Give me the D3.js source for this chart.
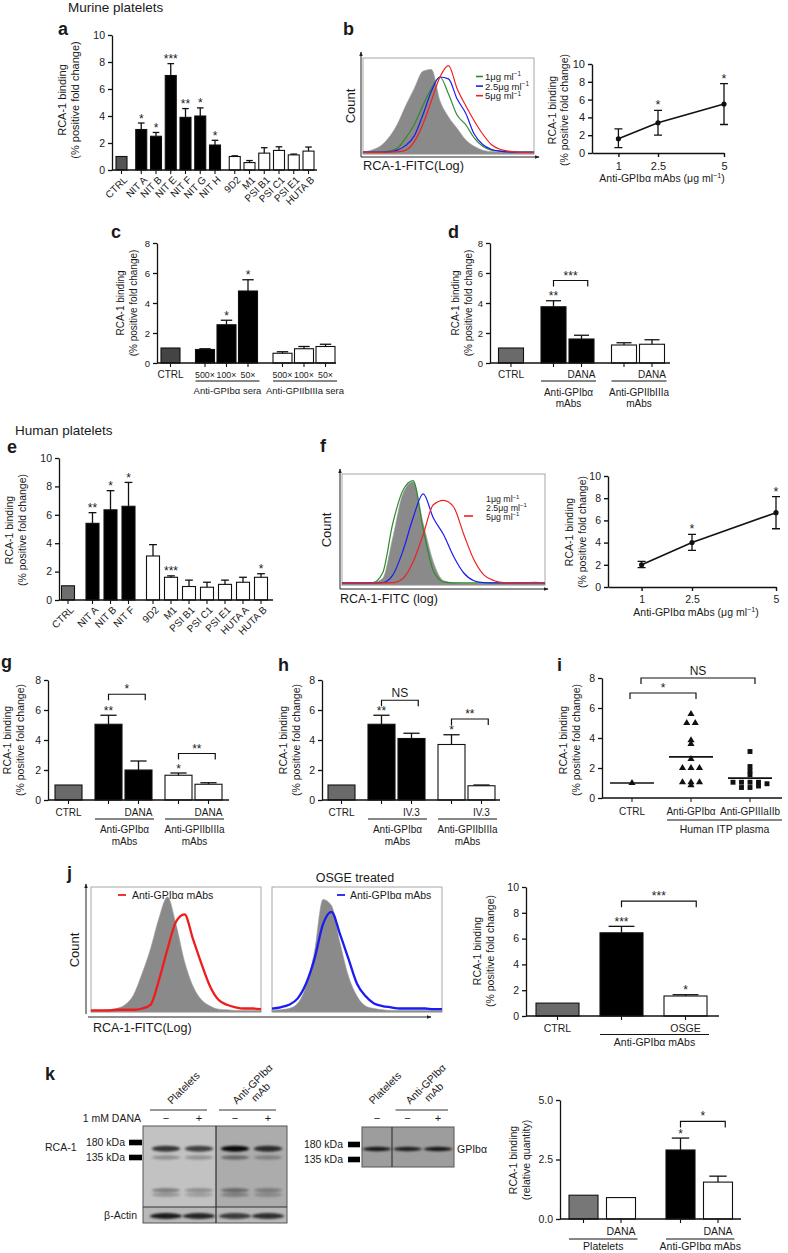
<!DOCTYPE html>
<html>
<head>
<meta charset="utf-8">
<script src="https://d3js.org/d3.v7.min.js"></script>
<style>
html,body{margin:0;padding:0;background:#fff;}
svg{display:block;}
text{font-family:"Liberation Sans",Arial,Helvetica,sans-serif;fill:#1a1a1a;}
</style>
</head>
<body>
<svg id="fig" width="788" height="1253" viewBox="0 0 788 1253"></svg>
<script>
// ================= DATA =================
// common
const yLabelText = ["RCA-1 binding", "(% positive fold change)"];
const kYLabelText = ["RCA-1 binding", "(relative quantity)"];
const ticks10 = [0, 2, 4, 6, 8, 10];
const ticks8 = [0, 2, 4, 6, 8];
const doseX = [1, 2.5, 5];
const doseTicks = [1, 2.5, 5];
const doseLegend = ["1μg ml^{−1}", "2.5μg ml^{−1}", "5μg ml^{−1}"];
const histChannels = [0,5,10,15,20,25,30,35,40,45,50,55,60,65,70,75,80,85,90,95,100];

// a
const aCats = ["CTRL","NIT A","NIT B","NIT E","NIT F","NIT G","NIT H","9D2","M1","PSI B1","PSI C1","PSI E1","HUTA B"];
const aType = ["control","GPIba","GPIba","GPIba","GPIba","GPIba","GPIba","GPIIbIIIa","GPIIbIIIa","GPIIbIIIa","GPIIbIIIa","GPIIbIIIa","GPIIbIIIa"];
const aVals = [1.0,3.0,2.5,7.0,3.9,4.0,1.85,1.0,0.55,1.25,1.45,1.12,1.4];
const aErrTop = [1.0,3.48,2.78,7.88,4.55,4.6,2.2,1.05,0.7,1.65,1.72,1.18,1.7];
const aStars = ["","*","*","***","**","*","*","","","","","",""];

// b
const bMean = [1.6, 3.4, 5.5];
const bLo = [0.6, 2.0, 3.2];
const bHi = [2.7, 4.8, 7.8];
const bStars = ["", "*", "*"];
const bHistGray  = [0.01,0.03,0.07,0.16,0.3,0.5,0.68,0.86,0.88,0.55,0.38,0.26,0.14,0.07,0.03,0.015,0.01,0.006,0.005,0.005,0.005];
const bHistGreen = [0.01,0.01,0.01,0.02,0.05,0.16,0.3,0.5,0.68,0.8,0.62,0.4,0.3,0.16,0.07,0.03,0.02,0.012,0.01,0.01,0.01];
const bHistBlue  = [0.01,0.01,0.01,0.012,0.03,0.08,0.18,0.4,0.65,0.8,0.78,0.57,0.42,0.2,0.09,0.04,0.02,0.012,0.01,0.01,0.01];
const bHistRed   = [0.006,0.006,0.006,0.01,0.012,0.03,0.12,0.3,0.55,0.8,0.92,0.68,0.5,0.34,0.2,0.09,0.04,0.02,0.01,0.006,0.006];

// c
const cLabels = ["CTRL","500×","100×","50×","500×","100×","50×"];
const cGroup = ["CTRL","Anti-GPIbα sera","Anti-GPIbα sera","Anti-GPIbα sera","Anti-GPIIbIIIa sera","Anti-GPIIbIIIa sera","Anti-GPIIbIIIa sera"];
const cType = ["control","GPIba","GPIba","GPIba","GPIIbIIIa","GPIIbIIIa","GPIIbIIIa"];
const cVals = [1.0,0.9,2.55,4.8,0.65,0.95,1.1];
const cErrTop = [1.0,0.95,2.85,5.55,0.75,1.1,1.25];
const cStars = ["","","*","*","","",""];

// d
const dLabels = ["CTRL","","DANA","","DANA"];
const dGroup = ["CTRL","Anti-GPIbα|mAbs","Anti-GPIbα|mAbs","Anti-GPIIbIIIa|mAbs","Anti-GPIIbIIIa|mAbs"];
const dType = ["control","GPIba","GPIba","GPIIbIIIa","GPIIbIIIa"];
const dVals = [1.0,3.75,1.6,1.2,1.25];
const dErrTop = [1.0,4.15,1.85,1.35,1.55];
const dStars = ["","**","","",""];
const dBrackets = [{from:1,to:2,at:5.5,label:"***"}];

// e
const eCats = ["CTRL","NIT A","NIT B","NIT F","9D2","M1","PSI B1","PSI C1","PSI E1","HUTA A","HUTA B"];
const eType = ["control","GPIba","GPIba","GPIba","GPIIbIIIa","GPIIbIIIa","GPIIbIIIa","GPIIbIIIa","GPIIbIIIa","GPIIbIIIa","GPIIbIIIa"];
const eVals = [1.0,5.4,6.35,6.6,3.1,1.6,0.95,0.9,1.1,1.25,1.6];
const eErrTop = [1.0,6.15,7.7,8.28,3.9,1.7,1.4,1.25,1.4,1.6,1.85];
const eStars = ["","**","*","*","","***","","","","","*"];

// f
const fMean = [2.0, 4.0, 6.7];
const fLo = [1.75, 3.3, 5.25];
const fHi = [2.3, 4.75, 8.15];
const fStars = ["", "*", "*"];
const fHistGray  = [0.01,0.01,0.01,0.012,0.05,0.42,0.82,0.93,0.55,0.2,0.03,0.012,0.006,0.005,0.005,0.005,0.005,0.005,0.005,0.005,0.005];
const fHistGreen = [0.01,0.01,0.01,0.012,0.1,0.55,0.85,0.94,0.5,0.12,0.02,0.01,0.01,0.01,0.01,0.01,0.01,0.01,0.01,0.01,0.01];
const fHistBlue  = [0.01,0.01,0.01,0.01,0.012,0.08,0.3,0.6,0.82,0.6,0.45,0.25,0.1,0.03,0.012,0.01,0.01,0.01,0.01,0.01,0.01];
const fHistRed   = [0.01,0.01,0.01,0.01,0.01,0.012,0.05,0.2,0.45,0.72,0.76,0.7,0.45,0.22,0.08,0.03,0.012,0.01,0.01,0.015,0.01];

// g
const gLabels = ["CTRL","","DANA","","DANA"];
const gGroup = ["CTRL","Anti-GPIbα|mAbs","Anti-GPIbα|mAbs","Anti-GPIIbIIIa|mAbs","Anti-GPIIbIIIa|mAbs"];
const gType = ["control","GPIba","GPIba","GPIIbIIIa","GPIIbIIIa"];
const gVals = [1.0,5.05,2.0,1.65,1.05];
const gErrTop = [1.0,5.65,2.6,1.8,1.15];
const gStars = ["","**","","*",""];
const gBrackets = [{from:1,to:2,at:7.05,label:"*"},{from:3,to:4,at:3.1,label:"**"}];

// h
const hLabels = ["CTRL","","IV.3","","IV.3"];
const hGroup = ["CTRL","Anti-GPIbα|mAbs","Anti-GPIbα|mAbs","Anti-GPIIbIIIa|mAbs","Anti-GPIIbIIIa|mAbs"];
const hType = ["control","GPIba","GPIba","GPIIbIIIa","GPIIbIIIa"];
const hVals = [1.0,5.05,4.1,3.7,0.95];
const hErrTop = [1.0,5.65,4.45,4.35,1.0];
const hStars = ["","**","","*",""];
const hBrackets = [{from:1,to:2,at:6.65,label:"NS"},{from:3,to:4,at:5.4,label:"**"}];

// i
const iCats = ["CTRL","Anti-GPIbα","Anti-GPIIIaIIb"];
const iGroup = ["","Human ITP plasma","Human ITP plasma"];
const iCtrl = [1.0];
const iGPIba = [5.6,5.0,5.0,3.85,3.6,2.6,2.0,2.0,2.0,1.05,1.05,1.05,0.85];
const iGPIIIa = [3.1,2.1,1.8,1.55,1.05,1.05,1.05,1.05,0.95,0.7,0.7,0.8];
const iBrackets = [{from:0,to:1,at:7.0,label:"*"},{from:0,to:2,at:8.0,label:"NS"}];

// j
const jLabels = ["CTRL","","OSGE"];
const jGroup = ["CTRL","Anti-GPIbα mAbs","Anti-GPIbα mAbs"];
const jTreat = ["control","none","OSGE"];
const jVals = [1.0,6.45,1.55];
const jErrTop = [1.0,6.95,1.65];
const jStars = ["","***","*"];
const jBrackets = [{from:1,to:2,at:8.9,label:"***"}];
const jHistGray  = [0.005,0.005,0.01,0.02,0.05,0.13,0.3,0.5,0.75,0.92,0.7,0.4,0.2,0.09,0.04,0.015,0.01,0.005,0.005,0.005,0.005];
const jHistRed   = [0.005,0.005,0.005,0.01,0.01,0.01,0.02,0.05,0.25,0.5,0.72,0.78,0.58,0.38,0.2,0.09,0.05,0.03,0.02,0.02,0.015];
const jHistGray2 = [0.005,0.01,0.02,0.06,0.2,0.48,0.9,0.85,0.55,0.28,0.12,0.04,0.02,0.01,0.005,0.005,0.005,0.005,0.005,0.005,0.005];
const jHistBlue  = [0.02,0.03,0.05,0.1,0.22,0.42,0.7,0.8,0.62,0.42,0.22,0.12,0.06,0.04,0.03,0.02,0.02,0.02,0.02,0.015,0.015];

// k
const kLabels = ["","DANA","","DANA"];
const kGroup = ["Platelets","Platelets","Anti-GPIbα mAbs","Anti-GPIbα mAbs"];
const kTreat = ["none","DANA","none","DANA"];
const kVals = [1.0,0.9,2.9,1.55];
const kErrTop = [1.0,0.9,3.4,1.8];
const kStars = ["","","*",""];
const kBrackets = [{from:2,to:3,at:4.1,label:"*"}];
const kTicks = [0, 2.5, 5];
const kLaneSign = ["−","+","−","+"];
const kLaneGroup = ["Platelets","Platelets","Anti-GPIbα|mAb","Anti-GPIbα|mAb"];
const kMarkerKDa = [180, 135];
const kBandKDa = [160, 135, 72, 66];
const kBandDark = [[0.72,0.66,0.95,0.75],[0.26,0.24,0.4,0.26],[0.34,0.26,0.38,0.28],[0.22,0.18,0.26,0.2]];
const kActinDark = [0.85,0.8,0.68,0.75];
const kGPLaneSign = ["−","−","+"];
const kGPLaneGroup = ["Platelets","Anti-GPIbα|mAb","Anti-GPIbα|mAb"];
const kGPBandKDa = 165;
const kGPDark = [0.85,0.8,0.85];

// ================= DRAWING =================
const FONT = '"Liberation Sans", Arial, Helvetica, sans-serif';
const svg = d3.select("#fig");
svg.append("rect").attr("width",788).attr("height",1253).attr("fill","#fff");
const defs = svg.append("defs");
defs.append("marker").attr("id","arr").attr("viewBox","0 0 8 8").attr("refX",7).attr("refY",4)
  .attr("markerWidth",5).attr("markerHeight",5).attr("orient","auto")
  .append("path").attr("d","M0,1 L8,4 L0,7 Z").attr("fill","#222");
defs.append("filter").attr("id","blur").attr("x","-30%").attr("y","-200%").attr("width","160%").attr("height","500%")
  .append("feGaussianBlur").attr("stdDeviation","1.6 1.1");

function rich(sel, s, size){
  const parts = s.split(/(\^\{[^}]*\})/).filter(p => p !== "");
  let raised = false;
  parts.forEach(p => {
    const m = p.match(/^\^\{(.*)\}$/);
    if (m) { sel.append("tspan").attr("font-size", size*0.68).attr("dy", -size*0.38).text(m[1]); raised = true; }
    else { const t = sel.append("tspan").text(p); if (raised) { t.attr("dy", size*0.38); raised = false; } }
  });
}
function T(g, x, y, s, size, anchor){
  const t = g.append("text").attr("x",x).attr("y",y).attr("font-size",size).attr("text-anchor",anchor||"start");
  rich(t, s, size);
  return t;
}
function rotLabel(g, x, yc, s, size){
  return g.append("text").attr("transform",`translate(${x},${yc}) rotate(-90)`).attr("text-anchor","middle")
    .attr("dy","0.35em").attr("font-size",size).text(s);
}
function letter(x, y, s){ svg.append("text").attr("x",x).attr("y",y).attr("font-size",18).attr("font-weight","bold").text(s); }
function groupIndex(arr){ let g = 0; return arr.map((v,i) => (i>0 && v!==arr[i-1]) ? ++g : g); }
function styleAxis(sel, size, w){
  sel.attr("font-family", FONT).attr("font-size", size);
  sel.selectAll("path,line").attr("stroke","#111").attr("stroke-width", w);
  sel.selectAll("text").attr("fill","#1a1a1a");
}
const typeFill = {control:"#555", GPIba:"#000", GPIIbIIIa:"#fff"};
const STAR_DY = -0.5;

function barPanel(o){
  const g = svg.append("g");
  const y = d3.scaleLinear().domain(o.yDomain).range(o.yRange);
  const xs = d3.scaleLinear().domain([0,1]).range([o.x0, o.x0 + o.step]);
  const gi = groupIndex(o.groupOf);
  const cx = i => xs(i) + gi[i]*o.gap;
  const base = y(0), bw = o.bw;
  o.vals.forEach((v,i) => {
    g.append("rect").attr("x",cx(i)-bw/2).attr("y",y(v)).attr("width",bw).attr("height",base-y(v))
      .attr("fill",o.fill(i)).attr("stroke","#111").attr("stroke-width",1.1);
    const et = o.errTop[i];
    if (et > v + 0.001) {
      g.append("line").attr("x1",cx(i)).attr("x2",cx(i)).attr("y1",y(v)).attr("y2",y(et)).attr("stroke","#111").attr("stroke-width",1.3);
      g.append("line").attr("x1",cx(i)-bw*0.3).attr("x2",cx(i)+bw*0.3).attr("y1",y(et)).attr("y2",y(et)).attr("stroke","#111").attr("stroke-width",1.3);
    }
    if (o.stars[i]) g.append("text").attr("x",cx(i)).attr("y",y(Math.max(et,v))+STAR_DY).attr("text-anchor","middle")
      .attr("font-size",o.starSize||12).text(o.stars[i]);
  });
  const ya = g.append("g").attr("transform",`translate(${o.axisX},0)`)
    .call(d3.axisLeft(y).tickValues(o.ticks).tickSize(4).tickSizeOuter(0).tickPadding(3).tickFormat(o.fmt||d3.format("d")));
  styleAxis(ya, o.tickFont, 1.3);
  g.append("line").attr("x1",o.axisX).attr("x2",o.axisEnd).attr("y1",base).attr("y2",base).attr("stroke","#111").attr("stroke-width",1.3);
  o.vals.forEach((v,i) => g.append("line").attr("x1",cx(i)).attr("x2",cx(i)).attr("y1",base).attr("y2",base+4).attr("stroke","#111").attr("stroke-width",1.1));
  (o.brackets||[]).forEach(b => {
    const x1 = cx(b.from), x2 = cx(b.to) + bw*0.25, yb = y(b.at);
    g.append("path").attr("d",`M${x1},${yb+6}V${yb}H${x2}V${yb+6}`).attr("fill","none").attr("stroke","#111").attr("stroke-width",1.2);
    const isStar = /^\*+$/.test(b.label);
    g.append("text").attr("x",(x1+x2)/2).attr("y",isStar ? yb-1 : yb-3).attr("text-anchor","middle").attr("font-size",12).text(b.label);
  });
  if (o.rotate) {
    o.labels.forEach((s,i) => g.append("text").attr("transform",`translate(${cx(i)+4},${base+8}) rotate(-45)`)
      .attr("text-anchor","end").attr("dy","0.35em").attr("font-size",o.labelFont).text(s));
  } else {
    o.labels.forEach((s,i) => { if (s) g.append("text").attr("x",cx(i)).attr("y",o.labelY).attr("text-anchor","middle")
      .attr("font-size", o.labelSize ? o.labelSize(i) : o.labelFont).text(s); });
    const groups = d3.groups(o.groupOf.map((n,i) => ({n,i})), d => d.n);
    groups.forEach(([name, items]) => {
      if (items.length < 2 || !name) return;
      const i0 = items[0].i, i1 = items[items.length-1].i;
      const xa = cx(i0) - bw/2, xb = cx(i1) + bw/2 + 2;
      g.append("line").attr("x1",xa).attr("x2",xb).attr("y1",o.ulY).attr("y2",o.ulY).attr("stroke","#111").attr("stroke-width",1);
      name.split("|").forEach((ln,k) => g.append("text").attr("x",(xa+xb)/2).attr("y",o.groupY + k*o.lineH)
        .attr("text-anchor","middle").attr("font-size",o.groupFont).text(ln));
    });
  }
  const yt = o.yText || yLabelText;
  rotLabel(g, o.yl[0], o.yl[2], yt[0], o.ylSize);
  rotLabel(g, o.yl[1], o.yl[2], yt[1], o.ylSize);
}

function linePanel(o){
  const g = svg.append("g");
  const x = d3.scaleLinear().domain([0,5]).range(o.xRange);
  const y = d3.scaleLinear().domain([0,10]).range(o.yRange);
  const ya = g.append("g").attr("transform",`translate(${o.xRange[0]},0)`)
    .call(d3.axisLeft(y).tickValues(ticks10).tickSize(4).tickSizeOuter(0).tickPadding(3));
  styleAxis(ya, o.tickFont, 1.4);
  const xa = g.append("g").attr("transform",`translate(0,${o.yRange[0]})`)
    .call(d3.axisBottom(x).tickValues(doseTicks).tickSize(4).tickSizeOuter(0).tickPadding(5).tickFormat(d => String(d)));
  styleAxis(xa, o.tickFont, 1.4);
  const pts = doseX.map((d,i) => [x(d), y(o.mean[i])]);
  g.append("path").attr("d", d3.line()(pts)).attr("fill","none").attr("stroke","#111").attr("stroke-width",1.6);
  doseX.forEach((d,i) => {
    const px = x(d);
    g.append("path").attr("d",`M${px},${y(o.lo[i])}V${y(o.hi[i])}M${px-4},${y(o.lo[i])}H${px+4}M${px-4},${y(o.hi[i])}H${px+4}`)
      .attr("fill","none").attr("stroke","#111").attr("stroke-width",1.3);
    g.append("circle").attr("cx",px).attr("cy",y(o.mean[i])).attr("r",2.6).attr("fill","#111");
    if (o.stars[i]) g.append("text").attr("x",px).attr("y",y(o.hi[i])-1).attr("text-anchor","middle").attr("font-size",12.5).text(o.stars[i]);
  });
  T(g, (o.xRange[0]+o.xRange[1])/2 + 4, o.titleY, "Anti-GPIbα mAbs (μg ml^{−1})", o.titleSize, "middle");
  rotLabel(g, o.yl[0], o.yl[2], yLabelText[0], o.ylSize);
  rotLabel(g, o.yl[1], o.yl[2], yLabelText[1], o.ylSize);
}

function histPanel(o){
  const g = svg.append("g");
  const x = d3.scaleLinear().domain([0,100]).range([o.x0, o.x1]);
  const y = d3.scaleLinear().domain([0,1]).range([o.y1-1, o.y0]);
  g.append("rect").attr("x",o.x0).attr("y",o.y0).attr("width",o.x1-o.x0).attr("height",o.y1-o.y0)
    .attr("fill","none").attr("stroke","#a6a6a6").attr("stroke-width",1);
  if (o.gray) {
    g.append("path").attr("d", d3.area().x((d,i) => x(histChannels[i])).y0(o.y1).y1(d => y(d)).curve(d3.curveMonotoneX)(o.gray))
      .attr("fill","#8a8a8a").attr("stroke","#9a9a9a").attr("stroke-width",0.6);
  }
  o.lines.forEach(l => {
    g.append("path").attr("d", d3.line().x((d,i) => x(histChannels[i])).y(d => y(d)).curve(d3.curveMonotoneX)(l.vals))
      .attr("fill","none").attr("stroke",l.color).attr("stroke-width",l.w||1.2);
  });
  return g;
}
function arrowLine(x1,y1,x2,y2){
  svg.append("line").attr("x1",x1).attr("y1",y1).attr("x2",x2).attr("y2",y2).attr("stroke","#222").attr("stroke-width",1)
    .attr("marker-end","url(#arr)");
}

// ---------- Titles / letters ----------
svg.append("text").attr("x",68).attr("y",12).attr("font-size",13.5).text("Murine platelets");
svg.append("text").attr("x",15).attr("y",435).attr("font-size",13.5).text("Human platelets");
letter(58,35,"a"); letter(343,35,"b"); letter(111,238,"c"); letter(448,238,"d");
letter(7,453,"e"); letter(320,452,"f"); letter(1,668,"g"); letter(278,671,"h");
letter(557,671,"i"); letter(67,879,"j"); letter(45,1080,"k");

// ---------- a ----------
barPanel({vals:aVals, errTop:aErrTop, stars:aStars, groupOf:aType, fill:i => typeFill[aType[i]],
  labels:aCats, rotate:true, labelFont:10,
  x0:121.5, step:14.75, gap:5, bw:11, axisX:112, axisEnd:317, yDomain:[0,10], yRange:[170,35],
  ticks:ticks10, tickFont:10.5, yl:[62,75,100], ylSize:11});

// ---------- b ----------
histPanel({x0:363, x1:534, y0:58, y1:154, gray:bHistGray,
  lines:[{vals:bHistGreen,color:"#2e8b2e"},{vals:bHistBlue,color:"#1c1cf0"},{vals:bHistRed,color:"#f02020"}]});
arrowLine(361,157,361,52);
arrowLine(361,157,539,157);
rotLabel(svg,350,106,"Count",13);
svg.append("text").attr("x",363).attr("y",170).attr("font-size",12.8).text("RCA-1-FITC(Log)");
["#2e8b2e","#1c1cf0","#f02020"].forEach((c,k) => {
  const yy = 80 + k*9.6;
  svg.append("line").attr("x1",476).attr("x2",483).attr("y1",yy-3.5).attr("y2",yy-3.5).attr("stroke",c).attr("stroke-width",1.6);
  T(svg, 485, yy, doseLegend[k], 9.5, "start");
});
linePanel({mean:bMean, lo:bLo, hi:bHi, stars:bStars, xRange:[592,724], yRange:[153,64], tickFont:11,
  titleY:182, titleSize:10.5, yl:[552,564,110], ylSize:10.5});

// ---------- c ----------
barPanel({vals:cVals, errTop:cErrTop, stars:cStars, groupOf:cGroup, fill:i => cType[i]==="control" ? "#444" : typeFill[cType[i]],
  labels:cLabels, labelY:378, labelFont:10, labelSize:i => i===0 ? 10 : 8.8,
  ulY:381, groupY:394, lineH:11, groupFont:9.5,
  x0:170.5, step:21.5, gap:13, bw:19, axisX:157, axisEnd:336, yDomain:[0,8], yRange:[363,243],
  ticks:ticks8, tickFont:9.5, yl:[120,133,303], ylSize:10});

// ---------- d ----------
barPanel({vals:dVals, errTop:dErrTop, stars:dStars, groupOf:dGroup, fill:i => dType[i]==="control" ? "#6a6a6a" : typeFill[dType[i]],
  labels:dLabels, labelY:378, labelFont:10, ulY:381, groupY:396, lineH:11, groupFont:10, brackets:dBrackets,
  x0:511, step:28, gap:14.5, bw:25, axisX:490, axisEnd:670, yDomain:[0,8], yRange:[363,243],
  ticks:ticks8, tickFont:9.5, yl:[455,468,303], ylSize:10});

// ---------- e ----------
barPanel({vals:eVals, errTop:eErrTop, stars:eStars, groupOf:eType, fill:i => eType[i]==="control" ? "#6e6e6e" : typeFill[eType[i]],
  labels:eCats, rotate:true, labelFont:10,
  x0:68, step:18, gap:6.5, bw:13, axisX:59, axisEnd:273, yDomain:[0,10], yRange:[600,458],
  ticks:ticks10, tickFont:10.5, yl:[9,22,530], ylSize:10.5});

// ---------- f ----------
histPanel({x0:342, x1:545, y0:474, y1:585, gray:fHistGray,
  lines:[{vals:fHistGreen,color:"#2e8b2e"},{vals:fHistBlue,color:"#1c1cf0"},{vals:fHistRed,color:"#f02020"}]});
arrowLine(340,589,340,469);
arrowLine(340,589,548,589);
rotLabel(svg,326,530,"Count",13);
svg.append("text").attr("x",340).attr("y",603).attr("font-size",12.5).text("RCA-1-FITC (log)");
doseLegend.forEach((s,k) => T(svg, 486, 502 + k*8.8, s, 8.8, "start"));
svg.append("line").attr("x1",464).attr("x2",473).attr("y1",516).attr("y2",516).attr("stroke","#f02020").attr("stroke-width",1.6);
linePanel({mean:fMean, lo:fLo, hi:fHi, stars:fStars, xRange:[608,776], yRange:[587,476], tickFont:10.5,
  titleY:616, titleSize:10.5, yl:[569,582,532], ylSize:10.5});

// ---------- g ----------
barPanel({vals:gVals, errTop:gErrTop, stars:gStars, groupOf:gGroup, fill:i => gType[i]==="control" ? "#6a6a6a" : typeFill[gType[i]],
  labels:gLabels, labelY:816, labelFont:10, ulY:819, groupY:833, lineH:11.5, groupFont:10, brackets:gBrackets,
  x0:68.5, step:30, gap:10, bw:27, axisX:48, axisEnd:229, yDomain:[0,8], yRange:[800,680],
  ticks:ticks8, tickFont:10.5, yl:[7,20,740], ylSize:10.5});

// ---------- h ----------
barPanel({vals:hVals, errTop:hErrTop, stars:hStars, groupOf:hGroup, fill:i => hType[i]==="control" ? "#6a6a6a" : typeFill[hType[i]],
  labels:hLabels, labelY:816, labelFont:10, ulY:819, groupY:833, lineH:11.5, groupFont:10, brackets:hBrackets,
  x0:341.5, step:30, gap:10, bw:27, axisX:322, axisEnd:500, yDomain:[0,8], yRange:[800,680],
  ticks:ticks8, tickFont:10.5, yl:[283,296,740], ylSize:10.5});

// ---------- i ----------
(function(){
  const g = svg.append("g");
  const y = d3.scaleLinear().domain([0,8]).range([798,678]);
  const x = d3.scalePoint().domain(iCats).range([632,750]);
  const ya = g.append("g").attr("transform","translate(602,0)")
    .call(d3.axisLeft(y).tickValues(ticks8).tickSize(4).tickSizeOuter(0).tickPadding(3));
  styleAxis(ya, 10.5, 1.3);
  g.append("line").attr("x1",602).attr("x2",782).attr("y1",y(0)).attr("y2",y(0)).attr("stroke","#111").attr("stroke-width",1.3);
  iCats.forEach(c => g.append("line").attr("x1",x(c)).attr("x2",x(c)).attr("y1",y(0)).attr("y2",y(0)+4).attr("stroke","#111"));
  const sets = [iCtrl, iGPIba, iGPIIIa];
  const syms = [d3.symbolTriangle, d3.symbolTriangle, d3.symbolSquare];
  sets.forEach((vals,k) => {
    const cxk = x(iCats[k]);
    const sym = d3.symbol().type(syms[k]).size(k===2 ? 24 : 22)();
    d3.groups(vals, v => Math.round(v*4)/4).forEach(([key, vs]) => {
      vs.forEach((v,j) => {
        const dx = (j - (vs.length-1)/2) * 8.5;
        g.append("path").attr("d",sym).attr("transform",`translate(${cxk+dx},${y(v)})`).attr("fill","#111");
      });
    });
    const m = d3.mean(vals);
    g.append("line").attr("x1",cxk-22).attr("x2",cxk+22).attr("y1",y(m)).attr("y2",y(m)).attr("stroke","#111").attr("stroke-width",1.6);
  });
  iBrackets.forEach(b => {
    const x1 = x(iCats[b.from]) + (b.from===0 && b.to===2 ? 9 : -2), x2 = x(iCats[b.to]) + 5, yb = y(b.at);
    g.append("path").attr("d",`M${x1},${yb+6}V${yb}H${x2}V${yb+6}`).attr("fill","none").attr("stroke","#111").attr("stroke-width",1.2);
    const isStar = /^\*+$/.test(b.label);
    g.append("text").attr("x",(x1+x2)/2).attr("y",isStar ? yb-1 : yb-3).attr("text-anchor","middle").attr("font-size",12).text(b.label);
  });
  iCats.forEach(c => g.append("text").attr("x",x(c)).attr("y",815).attr("text-anchor","middle").attr("font-size",10).text(c));
  const grp = iCats.filter((c,k) => iGroup[k] === "Human ITP plasma");
  const xa = x(grp[0]) - 24, xb = x(grp[grp.length-1]) + 32;
  g.append("line").attr("x1",xa).attr("x2",xb).attr("y1",820).attr("y2",820).attr("stroke","#111");
  g.append("text").attr("x",(xa+xb)/2).attr("y",833).attr("text-anchor","middle").attr("font-size",10.5).text(iGroup[1]);
  rotLabel(g, 563, 740, yLabelText[0], 10.5);
  rotLabel(g, 576, 740, yLabelText[1], 10.5);
})();

// ---------- j ----------
histPanel({x0:91, x1:261, y0:887, y1:1012, gray:jHistGray, lines:[{vals:jHistRed,color:"#f01c1c",w:2.3}]});
histPanel({x0:272, x1:442, y0:887, y1:1012, gray:jHistGray2, lines:[{vals:jHistBlue,color:"#1c1cf0",w:2.3}]});
arrowLine(86,1014,86,884);
arrowLine(88,1017,431,1017);
rotLabel(svg,74,950,"Count",13);
svg.append("text").attr("x",93).attr("y",1032).attr("font-size",12.5).text("RCA-1-FITC(Log)");
svg.append("text").attr("x",355).attr("y",882).attr("text-anchor","middle").attr("font-size",12.5).text("OSGE treated");
svg.append("line").attr("x1",118).attr("x2",126).attr("y1",895).attr("y2",895).attr("stroke","#f01c1c").attr("stroke-width",1.8);
svg.append("text").attr("x",132).attr("y",899).attr("font-size",10.5).text("Anti-GPIbα mAbs");
svg.append("line").attr("x1",337).attr("x2",345).attr("y1",895).attr("y2",895).attr("stroke","#1c1cf0").attr("stroke-width",1.8);
svg.append("text").attr("x",350).attr("y",899).attr("font-size",10.5).text("Anti-GPIbα mAbs");
barPanel({vals:jVals, errTop:jErrTop, stars:jStars, groupOf:jGroup,
  fill:i => jTreat[i]==="control" ? "#6a6a6a" : (jTreat[i]==="OSGE" ? "#fff" : "#000"),
  labels:jLabels, labelY:1032, labelFont:10.5, ulY:1034.5, groupY:1046, lineH:11, groupFont:10.5, brackets:jBrackets,
  x0:557.5, step:64, gap:0, bw:43, axisX:526, axisEnd:719, yDomain:[0,10], yRange:[1016,887],
  ticks:ticks10, tickFont:10.5, yl:[477,490,951], ylSize:10.5});

// ---------- k: blots ----------
(function(){
  const g = svg.append("g");
  const lx = d3.scaleLinear().domain([0,1]).range([166,199]);
  const lgi = groupIndex(kLaneGroup);
  const laneX = i => lx(i) + lgi[i]*3;
  const yk = d3.scaleLog().domain(kMarkerKDa).range([1142.5,1157.5]);
  g.append("rect").attr("x",143).attr("y",1126).attr("width",73).attr("height",81).attr("fill","#c2c2c2");
  g.append("rect").attr("x",216).attr("y",1126).attr("width",71).attr("height",81).attr("fill","#acacac");
  g.append("rect").attr("x",143).attr("y",1207).attr("width",144).attr("height",16).attr("fill","#b8b8b8");
  kBandKDa.forEach((kd,b) => kLaneSign.forEach((s,i) => {
    g.append("ellipse").attr("cx",laneX(i)).attr("cy",yk(kd)).attr("rx",14).attr("ry",b===0 ? 3 : 2.2)
      .attr("fill","#000").attr("opacity",kBandDark[b][i]).attr("filter","url(#blur)");
  }));
  kLaneSign.forEach((s,i) => {
    g.append("ellipse").attr("cx",laneX(i)).attr("cy",1216).attr("rx",16).attr("ry",3)
      .attr("fill","#000").attr("opacity",kActinDark[i]).attr("filter","url(#blur)");
  });
  g.append("rect").attr("x",143).attr("y",1126).attr("width",144).attr("height",97).attr("fill","none").attr("stroke","#555").attr("stroke-width",1);
  g.append("line").attr("x1",216).attr("x2",216).attr("y1",1126).attr("y2",1223).attr("stroke","#111").attr("stroke-width",1);
  g.append("line").attr("x1",143).attr("x2",287).attr("y1",1207).attr("y2",1207).attr("stroke","#333").attr("stroke-width",1);
  kMarkerKDa.forEach(kd => {
    g.append("rect").attr("x",129).attr("y",yk(kd)-2.8).attr("width",13).attr("height",5.6).attr("fill","#000");
    g.append("text").attr("x",125).attr("y",yk(kd)+3.8).attr("text-anchor","end").attr("font-size",10.5).text(kd + " kDa");
  });
  g.append("text").attr("x",45).attr("y",1151).attr("font-size",10.5).text("RCA-1");
  g.append("text").attr("x",137).attr("y",1219).attr("text-anchor","end").attr("font-size",10.5).text("β-Actin");
  g.append("text").attr("x",141).attr("y",1122).attr("text-anchor","end").attr("font-size",10.5).text("1 mM DANA");
  kLaneSign.forEach((s,i) => g.append("text").attr("x",laneX(i)).attr("y",1122).attr("text-anchor","middle").attr("font-size",11).text(s));
  d3.groups(kLaneGroup.map((n,i) => ({n,i})), d => d.n).forEach(([name, items]) => {
    const xs = items.map(d => laneX(d.i));
    const mid = d3.mean(xs);
    const lines = name.split("|");
    const tg = g.append("g").attr("transform",`translate(${mid+1},${lines.length>1 ? 1084 : 1088}) rotate(-45)`);
    lines.forEach((ln,k) => tg.append("text").attr("x",0).attr("y",k*11.5).attr("dy","0.35em").attr("text-anchor","middle").attr("font-size",10.5).text(ln));
    g.append("line").attr("x1",d3.min(xs)-16).attr("x2",d3.max(xs)+8).attr("y1",1110).attr("y2",1110).attr("stroke","#333");
  });
  const rx = d3.scaleLinear().domain([0,1]).range([377,407.5]);
  const rLaneX = i => rx(i);
  const yk2 = d3.scaleLog().domain(kMarkerKDa).range([1144.5,1159.5]);
  g.append("rect").attr("x",362).attr("y",1127).attr("width",92).attr("height",40).attr("fill","#9d9d9d").attr("stroke","#555");
  kGPLaneSign.forEach((s,i) => g.append("ellipse").attr("cx",rLaneX(i)).attr("cy",yk2(kGPBandKDa)).attr("rx",14).attr("ry",2.2)
    .attr("fill","#000").attr("opacity",kGPDark[i]).attr("filter","url(#blur)"));
  g.append("line").attr("x1",392).attr("x2",392).attr("y1",1127).attr("y2",1167).attr("stroke","#222");
  kMarkerKDa.forEach(kd => {
    g.append("rect").attr("x",348).attr("y",yk2(kd)-2.8).attr("width",12).attr("height",5.6).attr("fill","#000");
    g.append("text").attr("x",343).attr("y",yk2(kd)+3.8).attr("text-anchor","end").attr("font-size",10.5).text(kd + " kDa");
  });
  g.append("text").attr("x",457).attr("y",1153).attr("font-size",10.5).text("GPIbα");
  kGPLaneSign.forEach((s,i) => g.append("text").attr("x",rLaneX(i)).attr("y",1122).attr("text-anchor","middle").attr("font-size",11).text(s));
  d3.groups(kGPLaneGroup.map((n,i) => ({n,i})), d => d.n).forEach(([name, items]) => {
    const xs = items.map(d => rLaneX(d.i));
    const mid = d3.mean(xs);
    const lines = name.split("|");
    const tg = g.append("g").attr("transform",`translate(${mid+(lines.length>1?3:8)},${lines.length>1 ? 1084 : 1088}) rotate(-45)`);
    lines.forEach((ln,k) => tg.append("text").attr("x",0).attr("y",k*11.5).attr("dy","0.35em").attr("text-anchor","middle").attr("font-size",10.5).text(ln));
    if (items.length > 1) g.append("line").attr("x1",d3.min(xs)-12).attr("x2",d3.max(xs)+10).attr("y1",1110).attr("y2",1110).attr("stroke","#333");
  });
})();

// ---------- k: bar chart ----------
barPanel({vals:kVals, errTop:kErrTop, stars:kStars, groupOf:kGroup,
  fill:i => kTreat[i]==="DANA" ? "#fff" : (kGroup[i]==="Platelets" ? "#777" : "#000"),
  labels:kLabels, labelY:1234.5, labelFont:10.5, ulY:1239, groupY:1250, lineH:11, groupFont:10.5, brackets:kBrackets,
  x0:583.5, step:37.5, gap:22, bw:29, axisX:560, axisEnd:741, yDomain:[0,5], yRange:[1219,1100],
  ticks:kTicks, fmt:d3.format(".1f"), tickFont:10.5, yl:[513,526,1160], ylSize:10.5, yText:kYLabelText});
</script>
</body>
</html>
